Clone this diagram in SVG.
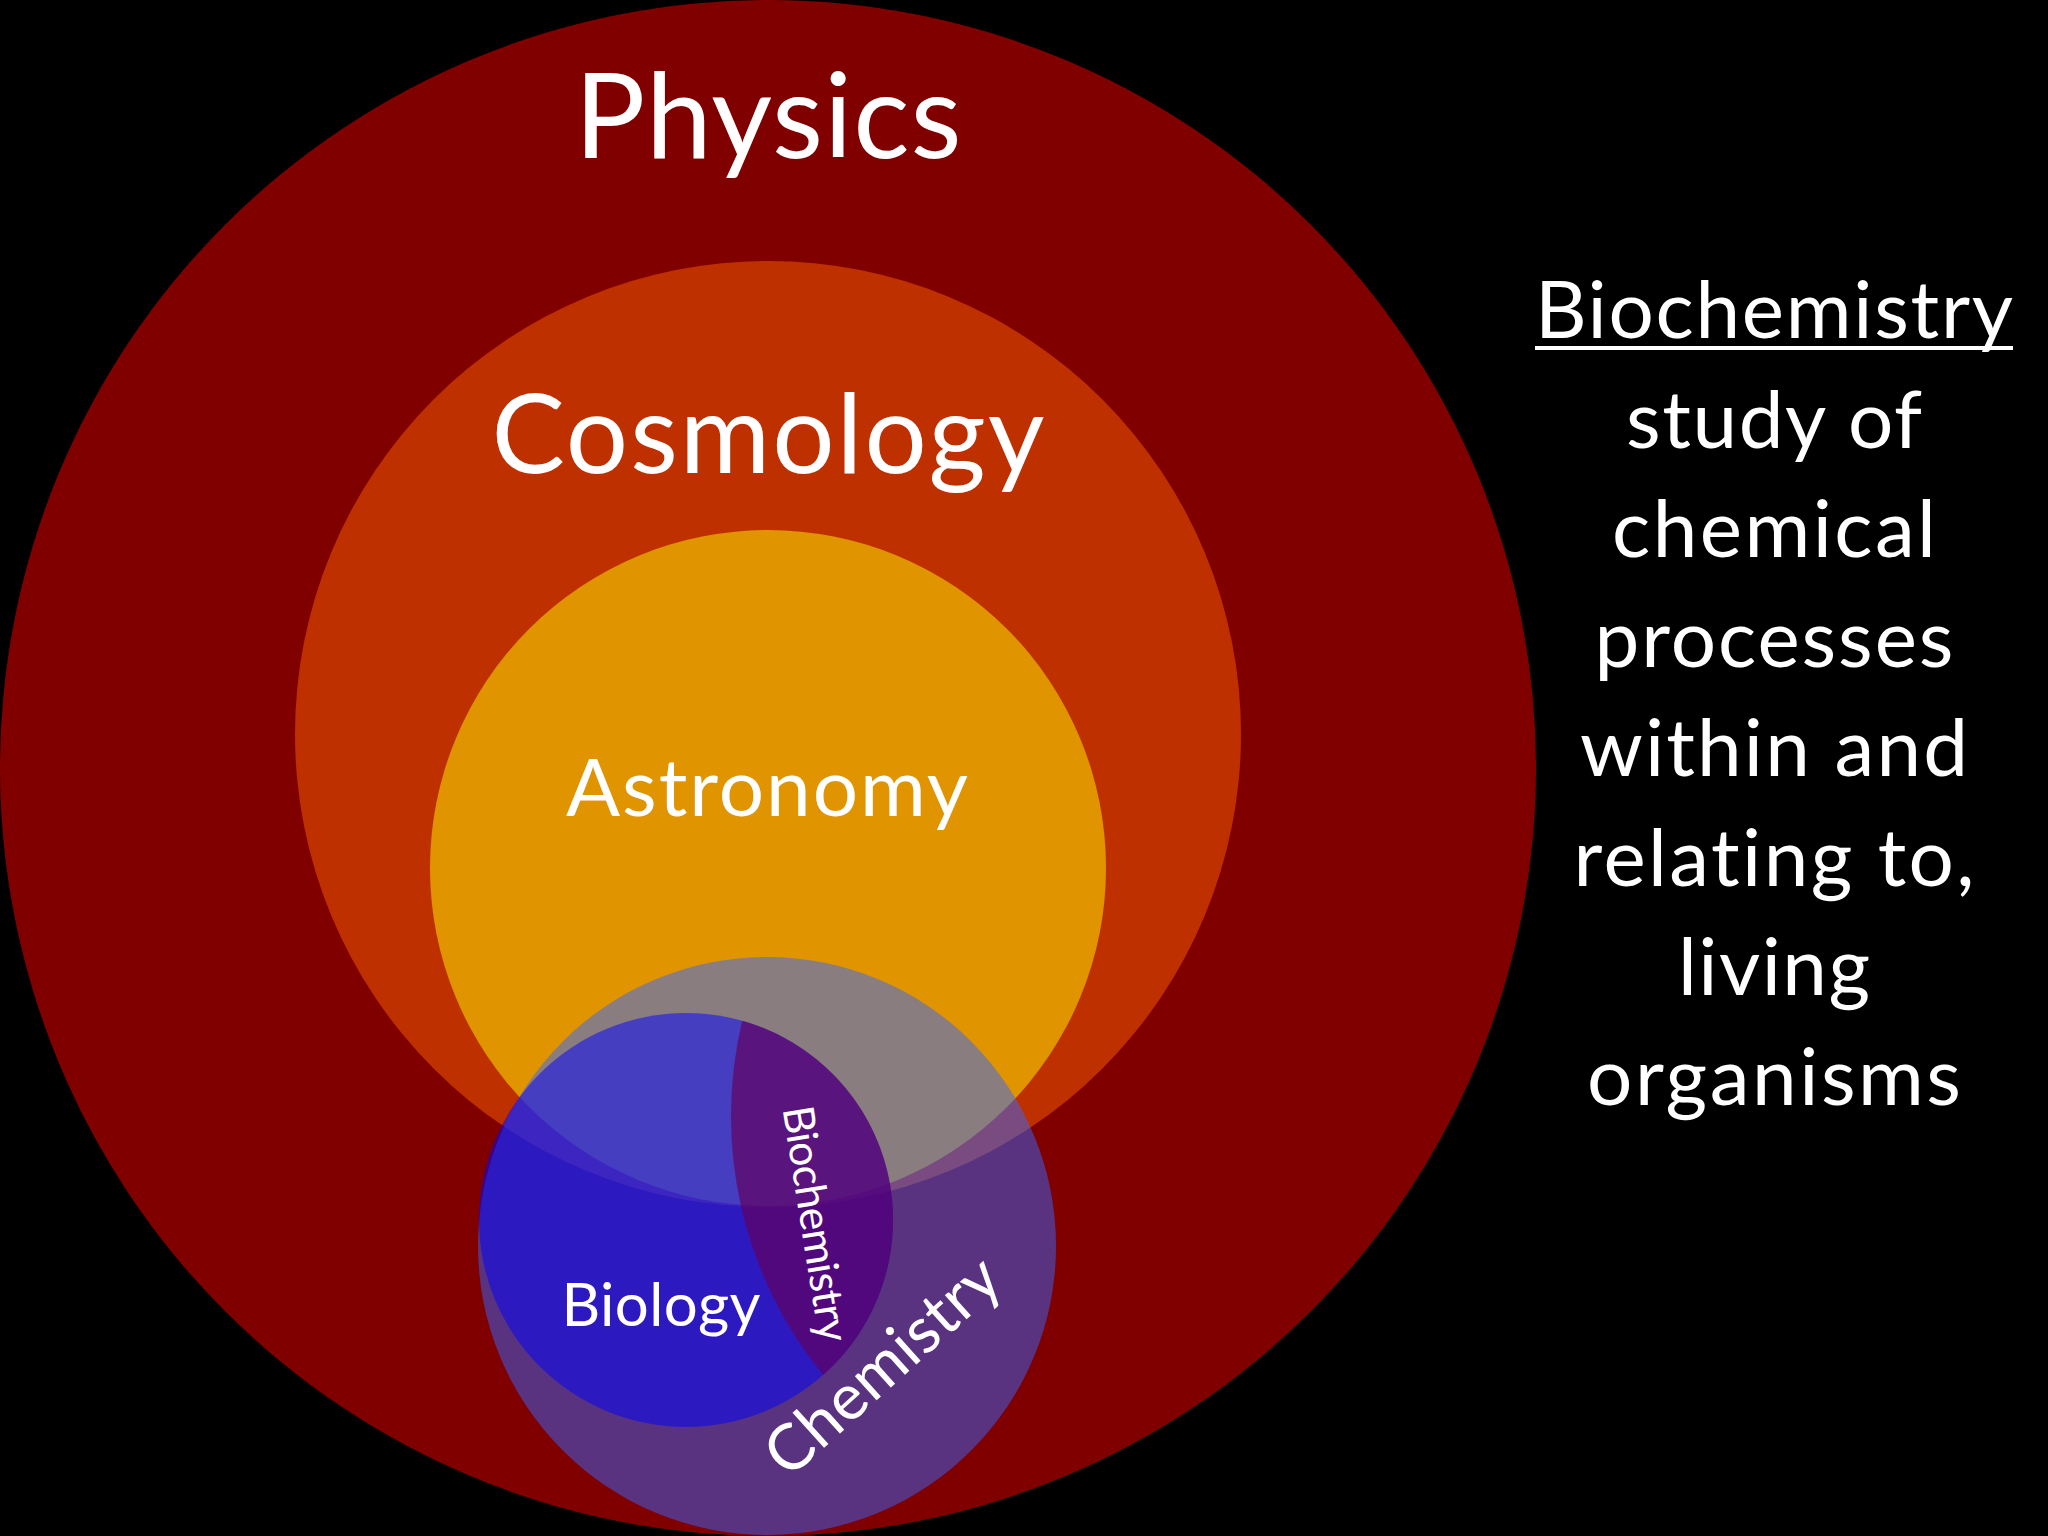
<svg xmlns="http://www.w3.org/2000/svg" width="2048" height="1536" viewBox="0 0 2048 1536">
<style>
  .lbl { font-family: Lato, "Liberation Sans", sans-serif; fill: #ffffff; text-anchor: middle; font-variant-ligatures: none; }
  .def { font-size: 80px; }
</style>
<rect x="0" y="0" width="2048" height="1536" fill="#000000"/>
<g id="physics">
  <circle cx="768" cy="768" r="768" fill="#800000"/>
</g>
<g id="cosmology">
  <circle cx="768" cy="734" r="473" fill="#BF3000"/>
</g>
<g id="astronomy">
  <circle cx="768" cy="868" r="338" fill="#E09400"/>
</g>
<g id="chemistry">
  <circle cx="767" cy="1246" r="289" fill="#3366FF" fill-opacity="0.5"/>
</g>
<g id="biology">
  <circle cx="686" cy="1220" r="207" fill="#0000FF" fill-opacity="0.5"/>
</g>
<g id="biochemistry">
  <path d="M742.2,1020.7 A410,410 0 0 0 823.2,1375.1 A207,207 0 0 0 742.2,1020.7 Z" fill="#66005C" fill-opacity="0.67"/>
</g>
<g id="labels">
  <text class="lbl" x="768" y="158" font-size="118" textLength="387">Physics</text>
  <text class="lbl" x="768" y="473" font-size="110" textLength="553">Cosmology</text>
  <text class="lbl" x="767" y="816" font-size="80" textLength="402">Astronomy</text>
  <text class="lbl" x="661" y="1326" font-size="60" textLength="199">Biology</text>
  <text class="lbl" x="0" y="0" font-size="64" textLength="292" transform="translate(897,1382) rotate(-42)">Chemistry</text>
  <text class="lbl" x="0" y="0" font-size="43" textLength="238" transform="translate(801,1226) rotate(81)">Biochemistry</text>
</g>
<g id="definition">
  <text class="lbl def" x="1774" y="338" textLength="478">Biochemistry</text>
  <line x1="1535" y1="348" x2="2013" y2="348" stroke="#ffffff" stroke-width="4"/>
  <text class="lbl def" x="1774" y="447.5" textLength="296">study of</text>
  <text class="lbl def" x="1774" y="557" textLength="324">chemical</text>
  <text class="lbl def" x="1774" y="666.5" textLength="359">processes</text>
  <text class="lbl def" x="1774" y="776" textLength="388">within and</text>
  <text class="lbl def" x="1774" y="885.5" textLength="401">relating to,</text>
  <text class="lbl def" x="1774" y="995" textLength="192">living</text>
  <text class="lbl def" x="1774" y="1104.5" textLength="374">organisms</text>
</g>
</svg>
